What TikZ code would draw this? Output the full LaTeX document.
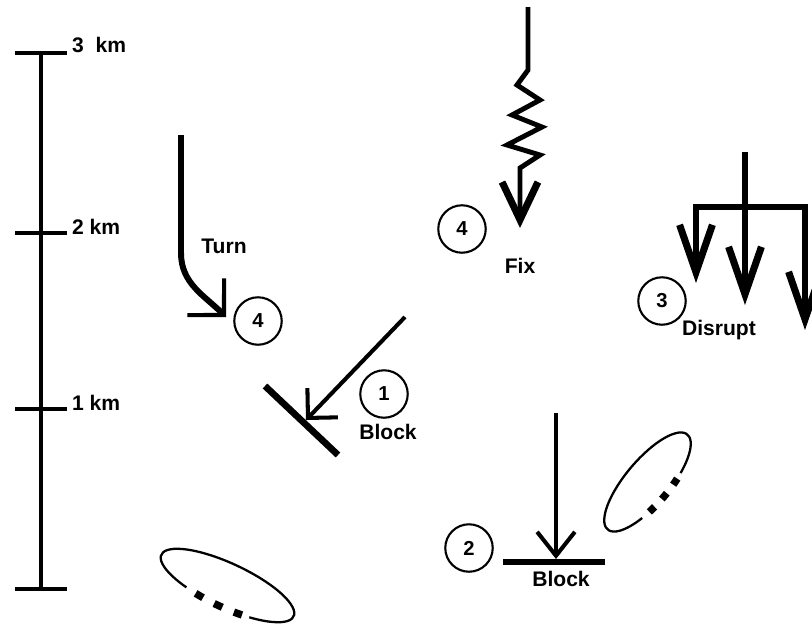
\documentclass[tikz,border=0pt]{standalone}
\usepackage{fontspec}
\setmainfont{Liberation Sans}
\usetikzlibrary{arrows.meta}

\begin{document}
\begin{tikzpicture}[
  x=0.02cm, y=0.02cm,
  every node/.style={inner sep=1pt},
  lab/.style={font=\bfseries\fontsize{12}{14}\selectfont},
  num/.style={circle,draw=black,line width=1.2pt,minimum size=27pt,inner sep=0pt,font=\bfseries\fontsize{11.5}{13}\selectfont},
  bar/.style={line width=2.3pt},
  shaft/.style={line width=2.3pt},
  wall/.style={line width=3.8pt},
  fork/.style={line width=3.4pt,line join=miter},
  ring/.style={line width=1.3pt},
  blob/.style={line width=4.2pt},
]
  \useasboundingbox (0,0) rectangle (812,627);
  % ============ distance scale ============
  \draw[bar] (41,574) -- (41,38);
  \foreach \y in {574,394,218,38}
    \draw[bar] (15,\y) -- (67,\y);
  \node[lab,anchor=west] (km3) at (70,582) {3~~km};
  \node[lab,anchor=west] (km2) at (70,400) {2 km};
  \node[lab,anchor=west] (km1) at (70,224) {1 km};
  % ============ turn ============
  \draw[line width=3.4pt,-{Straight Barb[length=14.7pt,width=29.5pt,line width=2.3pt]}]
    (181,492) -- (181,374) to[out=-90,in=135] (226,310);
  \node[lab] (turn) at (224,381) {Turn};
  \node[num] (n4t) at (258,306) {4};
  % ============ fix ============
  \draw[line width=2.8pt,-{Straight Barb[length=21.5pt,width=20.4pt,line width=4pt]}]
    (528,620) -- (528,557) -- (517,542) -- (540,527) -- (512,512) -- (542,500)
    -- (507,482) -- (540,472) -- (520,459) -- (520,399);
  \node[lab] (fix) at (520,361) {Fix};
  \node[num] (n4f) at (462,398) {4};
  % ============ disrupt ============
  \draw[fork,{Straight Barb[length=27pt,width=18.7pt,line width=4pt]}-{Straight Barb[length=27pt,width=18.7pt,line width=4pt]}]
    (696,344) -- (696,420) -- (805,420) -- (805,297);
  \draw[fork,-{Straight Barb[length=27pt,width=18.7pt,line width=4pt]}] (745,475) -- (745,322);
  \node[lab] (disrupt) at (719,297) {Disrupt};
  \node[num] (n3) at (662,326) {3};
  % ============ block (diagonal) ============
  \draw[shaft,-{Straight Barb[length=12pt,width=24pt]}] (405,310) -- (306,207);
  \draw[wall] (265,241) -- (338,172);
  \node[lab] (block1) at (388,195) {Block};
  \node[num] (n1) at (384,233) {1};
  % ============ block (vertical) ============
  \draw[shaft,-{Straight Barb[length=13.6pt,width=21.5pt]}] (556,214) -- (556,68);
  \draw[wall] (503,65) -- (605,65);
  \node[lab] (block2) at (561,48) {Block};
  \node[num] (n2) at (469,79) {2};
  % ============ broken rings ============
  \foreach \cx/\cy/\rot/\ra/\rb in {227.5/41.5/-25/73/22, 647.5/145/50/62/22} {
    \begin{scope}[shift={(\cx,\cy)},rotate=\rot]
      \draw[ring] (297:{\ra} and {\rb}) arc[start angle=297,end angle=600,x radius=\ra,y radius=\rb];
      \foreach \t in {253,270,287}
        \draw[blob] ({\t-3.5}:{\ra} and {\rb}) arc[start angle=\t-3.5,end angle=\t+3.5,x radius=\ra,y radius=\rb];
    \end{scope}
  }
\end{tikzpicture}
\end{document}
